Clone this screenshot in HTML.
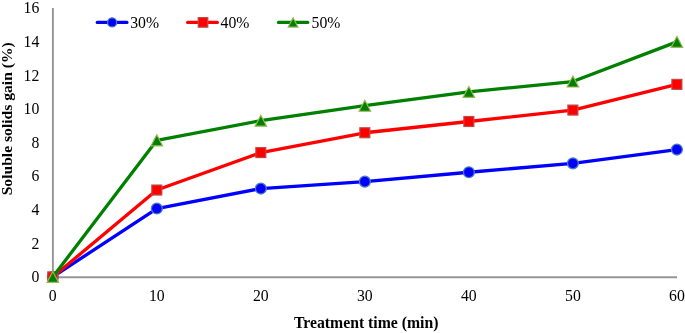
<!DOCTYPE html><html><head><meta charset="utf-8"><style>
html,body{margin:0;padding:0;background:#fff;}
body{width:685px;height:333px;overflow:hidden;}
svg{display:block;filter:blur(0.3px);font-family:"Liberation Serif",serif;}
</style></head><body>
<svg width="685" height="333" viewBox="0 0 685 333">
<rect width="685" height="333" fill="#fff"/>

<line x1="52.9" y1="8" x2="52.9" y2="278" stroke="#959595" stroke-width="1.9"/>
<line x1="52" y1="277.3" x2="677" y2="277.3" stroke="#959595" stroke-width="1.9"/>
<text transform="translate(39.30,282.20) scale(0.9,1)" font-size="17.5" text-anchor="end">0</text>
<text transform="translate(39.30,248.60) scale(0.9,1)" font-size="17.5" text-anchor="end">2</text>
<text transform="translate(39.30,215.00) scale(0.9,1)" font-size="17.5" text-anchor="end">4</text>
<text transform="translate(39.30,181.40) scale(0.9,1)" font-size="17.5" text-anchor="end">6</text>
<text transform="translate(39.30,147.80) scale(0.9,1)" font-size="17.5" text-anchor="end">8</text>
<text transform="translate(39.30,114.20) scale(0.9,1)" font-size="17.5" text-anchor="end">10</text>
<text transform="translate(39.30,80.60) scale(0.9,1)" font-size="17.5" text-anchor="end">12</text>
<text transform="translate(39.30,47.00) scale(0.9,1)" font-size="17.5" text-anchor="end">14</text>
<text transform="translate(39.30,13.40) scale(0.9,1)" font-size="17.5" text-anchor="end">16</text>
<text transform="translate(52.80,301.00) scale(0.9,1)" font-size="17.5" text-anchor="middle">0</text>
<text transform="translate(156.82,301.00) scale(0.9,1)" font-size="17.5" text-anchor="middle">10</text>
<text transform="translate(260.83,301.00) scale(0.9,1)" font-size="17.5" text-anchor="middle">20</text>
<text transform="translate(364.85,301.00) scale(0.9,1)" font-size="17.5" text-anchor="middle">30</text>
<text transform="translate(468.87,301.00) scale(0.9,1)" font-size="17.5" text-anchor="middle">40</text>
<text transform="translate(572.88,301.00) scale(0.9,1)" font-size="17.5" text-anchor="middle">50</text>
<text transform="translate(676.90,301.00) scale(0.9,1)" font-size="17.5" text-anchor="middle">60</text>
<text x="366.2" y="328.2" font-size="15.75" font-weight="bold" text-anchor="middle">Treatment time (min)</text>
<text transform="translate(12.2,118.8) rotate(-90)" font-size="15.62" font-weight="bold" text-anchor="middle">Soluble solids gain (%)</text>
<polyline points="52.80,276.90 156.82,208.52 260.83,188.53 364.85,181.64 468.87,172.24 572.88,163.33 676.90,149.56" fill="none" stroke="#0000ff" stroke-width="3.3" stroke-linejoin="round" stroke-linecap="round"/>
<circle cx="52.80" cy="276.90" r="5.45" fill="#0000ff" stroke="#4a7ebb" stroke-width="1.3"/>
<circle cx="156.82" cy="208.52" r="5.45" fill="#0000ff" stroke="#4a7ebb" stroke-width="1.3"/>
<circle cx="260.83" cy="188.53" r="5.45" fill="#0000ff" stroke="#4a7ebb" stroke-width="1.3"/>
<circle cx="364.85" cy="181.64" r="5.45" fill="#0000ff" stroke="#4a7ebb" stroke-width="1.3"/>
<circle cx="468.87" cy="172.24" r="5.45" fill="#0000ff" stroke="#4a7ebb" stroke-width="1.3"/>
<circle cx="572.88" cy="163.33" r="5.45" fill="#0000ff" stroke="#4a7ebb" stroke-width="1.3"/>
<circle cx="676.90" cy="149.56" r="5.45" fill="#0000ff" stroke="#4a7ebb" stroke-width="1.3"/>
<polyline points="52.80,276.90 156.82,190.04 260.83,152.58 364.85,132.76 468.87,121.50 572.88,110.08 676.90,84.37" fill="none" stroke="#ff0000" stroke-width="3.3" stroke-linejoin="round" stroke-linecap="round"/>
<rect x="47.80" y="271.90" width="10" height="10" fill="#ff0000" stroke="#be4b48" stroke-width="1.15"/>
<rect x="151.82" y="185.04" width="10" height="10" fill="#ff0000" stroke="#be4b48" stroke-width="1.15"/>
<rect x="255.83" y="147.58" width="10" height="10" fill="#ff0000" stroke="#be4b48" stroke-width="1.15"/>
<rect x="359.85" y="127.76" width="10" height="10" fill="#ff0000" stroke="#be4b48" stroke-width="1.15"/>
<rect x="463.87" y="116.50" width="10" height="10" fill="#ff0000" stroke="#be4b48" stroke-width="1.15"/>
<rect x="567.88" y="105.08" width="10" height="10" fill="#ff0000" stroke="#be4b48" stroke-width="1.15"/>
<rect x="671.90" y="79.37" width="10" height="10" fill="#ff0000" stroke="#be4b48" stroke-width="1.15"/>
<polyline points="52.80,276.90 156.82,140.32 260.83,120.66 364.85,105.71 468.87,91.93 572.88,81.52 676.90,41.87" fill="none" stroke="#008000" stroke-width="3.3" stroke-linejoin="round" stroke-linecap="round"/>
<polygon points="52.80,271.40 58.60,282.40 47.00,282.40" fill="#008000" stroke="#98b954" stroke-width="1.15" stroke-linejoin="miter"/>
<polygon points="156.82,134.82 162.62,145.82 151.02,145.82" fill="#008000" stroke="#98b954" stroke-width="1.15" stroke-linejoin="miter"/>
<polygon points="260.83,115.16 266.63,126.16 255.03,126.16" fill="#008000" stroke="#98b954" stroke-width="1.15" stroke-linejoin="miter"/>
<polygon points="364.85,100.21 370.65,111.21 359.05,111.21" fill="#008000" stroke="#98b954" stroke-width="1.15" stroke-linejoin="miter"/>
<polygon points="468.87,86.43 474.67,97.43 463.07,97.43" fill="#008000" stroke="#98b954" stroke-width="1.15" stroke-linejoin="miter"/>
<polygon points="572.88,76.02 578.68,87.02 567.08,87.02" fill="#008000" stroke="#98b954" stroke-width="1.15" stroke-linejoin="miter"/>
<polygon points="676.90,36.37 682.70,47.37 671.10,47.37" fill="#008000" stroke="#98b954" stroke-width="1.15" stroke-linejoin="miter"/>
<line x1="97.2" y1="22.4" x2="127.0" y2="22.4" stroke="#0000ff" stroke-width="3.1" stroke-linecap="round"/><circle cx="112.10" cy="22.40" r="4.55" fill="#0000ff" stroke="#4a7ebb" stroke-width="1.3"/><text transform="translate(130.20,27.90) scale(0.9,1)" font-size="17.5" text-anchor="start">30%</text>
<line x1="187.6" y1="22.4" x2="217.4" y2="22.4" stroke="#ff0000" stroke-width="3.1" stroke-linecap="round"/><rect x="198.20" y="17.60" width="9.6" height="9.6" fill="#ff0000" stroke="#be4b48" stroke-width="1.15"/><text transform="translate(220.60,27.90) scale(0.9,1)" font-size="17.5" text-anchor="start">40%</text>
<line x1="278.4" y1="22.4" x2="307.8" y2="22.4" stroke="#008000" stroke-width="3.1" stroke-linecap="round"/><polygon points="293.10,17.70 298.00,27.10 288.20,27.10" fill="#008000" stroke="#98b954" stroke-width="1.15" stroke-linejoin="miter"/><text transform="translate(311.60,27.90) scale(0.9,1)" font-size="17.5" text-anchor="start">50%</text>
</svg></body></html>
